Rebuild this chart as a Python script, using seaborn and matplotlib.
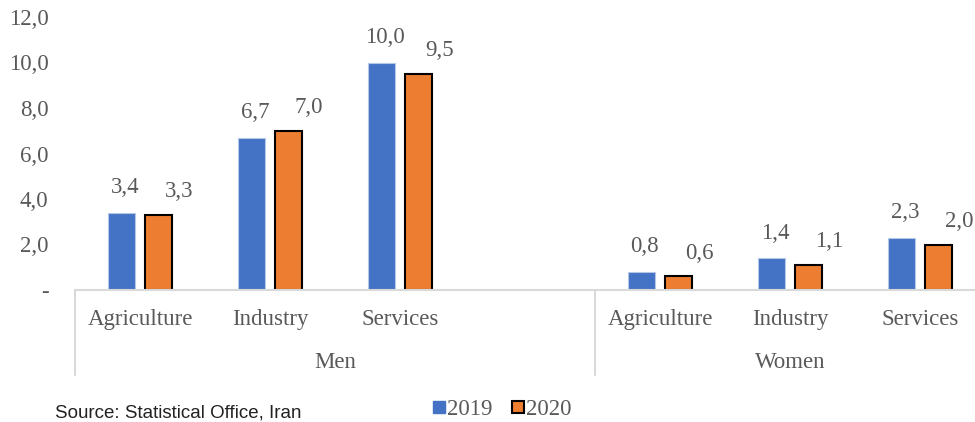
import matplotlib
matplotlib.use("Agg")
import matplotlib.pyplot as plt
import seaborn as sns
import pandas as pd
from matplotlib.lines import Line2D

# ---- data ----
groups = ["Men", "Women"]
sectors = ["Agriculture", "Industry", "Services"]
years = ["2019", "2020"]
men_2019 = [3.4, 6.7, 10.0]
men_2020 = [3.3, 7.0, 9.5]
women_2019 = [0.8, 1.4, 2.3]
women_2020 = [0.6, 1.1, 2.0]
y_ticks = [0, 2, 4, 6, 8, 10, 12]
source_text = "Source: Statistical Office, Iran"

# ---- build table ----
rows = []
for g, v19, v20 in [("Men", men_2019, men_2020), ("Women", women_2019, women_2020)]:
    for s, a, b in zip(sectors, v19, v20):
        rows.append({"cat": f"{g}|{s}", "year": "2019", "value": a})
        rows.append({"cat": f"{g}|{s}", "year": "2020", "value": b})
df = pd.DataFrame(rows)
order = [f"Men|{s}" for s in sectors] + ["gap"] + [f"Women|{s}" for s in sectors]

sns.set_theme(style="white")
plt.rcParams["font.family"] = ["Liberation Serif", "DejaVu Serif"]
grey = "#595959"
blue = "#4472C4"
orange = "#ED7D31"
FS = 16.5

fig = plt.figure(figsize=(9.75, 4.22), dpi=100)
W, H = 975, 422
ax = fig.add_axes([75 / W, 1 - 290 / H, 910 / W, 273 / H])

sns.barplot(data=df, x="cat", y="value", hue="year", order=order,
            hue_order=years, palette=[blue, orange], width=0.56, gap=0.25,
            saturation=1, ax=ax, legend=False, errorbar=None)

# style bars and add labels
for i, cont in enumerate(ax.containers):
    for bar in cont:
        if i == 0:
            bar.set_edgecolor("#B4C7E7")
            bar.set_linewidth(0.8)
        else:
            bar.set_edgecolor("black")
            bar.set_linewidth(1.5)
        h = bar.get_height()
        if pd.isna(h):
            continue
        xc = bar.get_x() + bar.get_width() / 2
        dx = 3 if i == 0 else 21
        dy = 25 if i == 0 else 23
        ax.annotate(f"{h:.1f}".replace(".", ","), (xc, h), xytext=(dx, dy),
                    textcoords="offset pixels",
                    ha="center", va="center", fontsize=FS, color=grey)

ax.set_xlim(-0.5, 6.5)
ax.set_ylim(0, 12)
ax.set_yticks(y_ticks)
ax.set_yticklabels(["-" if t == 0 else f"{t:.1f}".replace(".", ",") for t in y_ticks],
                   fontsize=FS, color=grey)
ax.tick_params(axis="y", length=0, pad=19)
ax.set_xticks(range(len(order)))
ax.set_xticklabels([c.split("|")[1] if "|" in c else "" for c in order],
                   fontsize=FS, color=grey)
ax.tick_params(axis="x", length=0, pad=14)
ax.set_xlabel("")
ax.set_ylabel("")
for sp in ["left", "right", "top"]:
    ax.spines[sp].set_visible(False)
ax.spines["bottom"].set_color("#D9D9D9")
ax.spines["bottom"].set_linewidth(1.5)

# multi-level category axis
tr = ax.get_xaxis_transform()
for xb in [-0.5, 3.5]:
    ax.plot([xb, xb], [0, -85 / 273], transform=tr, color="#D9D9D9", lw=1.5, clip_on=False)
ax.text(1.5, -72 / 273, "Men", transform=tr, ha="center", va="center", fontsize=FS, color=grey)
ax.text(5.0, -72 / 273, "Women", transform=tr, ha="center", va="center", fontsize=FS, color=grey)

# legend
handles = [Line2D([], [], marker="s", ls="", markersize=9, markerfacecolor=blue,
                  markeredgecolor=blue),
           Line2D([], [], marker="s", ls="", markersize=9, markerfacecolor=orange,
                  markeredgecolor="black", markeredgewidth=1.5)]
fig.legend(handles, years, loc="center", bbox_to_anchor=(502 / W, 1 - 409 / H),
           ncol=2, frameon=False, fontsize=FS, handlelength=0.6,
           handletextpad=0.05, columnspacing=0.8, labelcolor=grey)

fig.text(55 / W, 1 - 418 / H, source_text, fontsize=13.5, color="#222222",
         family=["Liberation Sans", "DejaVu Sans"], va="baseline", ha="left")

fig.savefig("out.png", dpi=100)
